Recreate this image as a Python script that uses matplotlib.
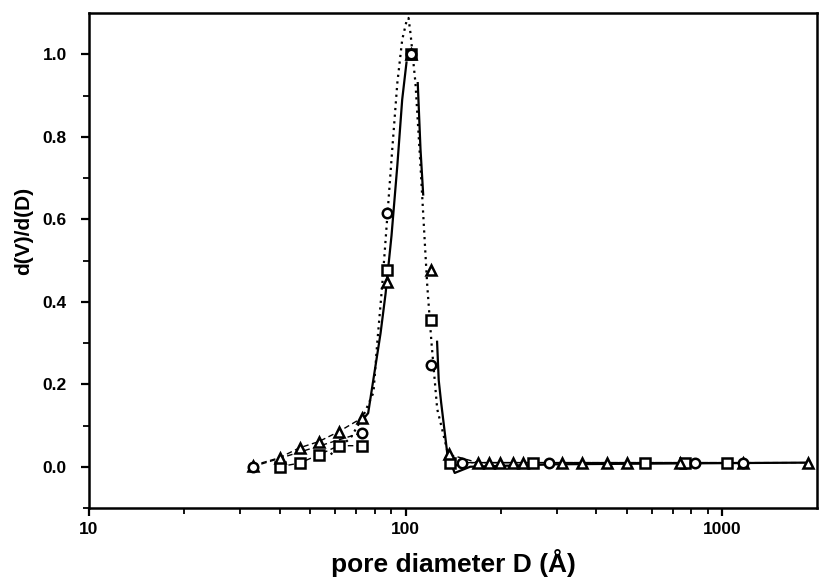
import numpy as np
import matplotlib
matplotlib.use("Agg")
import matplotlib.pyplot as plt
from matplotlib.ticker import FixedLocator, LogLocator, NullFormatter

plt.rcParams['font.family'] = ['Liberation Sans', 'DejaVu Sans']
plt.rcParams['font.weight'] = 'bold'

# Pore size distribution, normalised dV/dD for three samples
tri_D = [32.9, 40.0, 46.3, 53.2, 61.5, 73.1, 87.3, 103.7, 120.5, 137, 169, 183, 199, 218, 235,
         311, 362, 433, 500, 735, 1167, 1871]
tri_y = [0.003, 0.022, 0.046, 0.061, 0.085, 0.119, 0.448, 1.0, 0.478, 0.03, 0.01, 0.01, 0.01, 0.01,
         0.01, 0.01, 0.01, 0.01, 0.01, 0.01, 0.01, 0.01]

sq_D = [40.0, 46.3, 53.2, 61.5, 73.1, 87.3, 103.7, 120.5, 138, 253, 572, 761, 1040]
sq_y = [0.0, 0.009, 0.029, 0.051, 0.051, 0.477, 1.0, 0.356, 0.01, 0.01, 0.01, 0.01, 0.01]

circ_D = [32.9, 73.1, 87.1, 103.7, 120.5, 151, 283, 821, 1167]
circ_y = [0.0, 0.083, 0.615, 1.0, 0.247, 0.01, 0.01, 0.01, 0.01]

# Fitted distribution (dotted)
fit_D = [58.0, 67.1, 73.2, 79.2, 81.4, 84.4, 86.5, 90.8, 94.2, 97.6, 100.7, 102.2, 103.7, 107.5,
         111.5, 115.7, 117.1, 120.8, 125.9, 130.6, 135.4, 138.7, 149]
fit_y = [0.03, 0.07, 0.12, 0.18, 0.30, 0.44, 0.55, 0.77, 0.93, 1.035, 1.08, 1.088, 1.05, 0.93,
         0.73, 0.51, 0.44, 0.30, 0.14, 0.09, 0.04, 0.01, 0.0]

# Model curve (solid), broken where it passes behind the peak markers
model_D = [72.5, 76.2, 83.4, 86.5, 90.3, 94.2, 97.6, 100.7, np.nan,
           109.3, 111.5, 113.7, np.nan,
           125.8, 127.3, 129.6, 135.6, 143, 160, 300, 700, 1871]
model_y = [0.11, 0.13, 0.324, 0.42, 0.56, 0.73, 0.89, 0.98, np.nan,
           0.93, 0.77, 0.66, np.nan,
           0.303, 0.21, 0.155, 0.03, -0.015, 0.0, 0.006, 0.008, 0.01]

fig = plt.figure(figsize=(8.19, 5.81), dpi=100)
ax = fig.add_axes([89/819, 1-508/581, (817-89)/819, (508-13)/581])

ax.plot(fit_D, fit_y, color='black', linestyle=(0, (1, 2)), linewidth=1.6, zorder=2)
ax.plot(model_D, model_y, color='black', linestyle='-', linewidth=1.6, zorder=2)


def connect(D, y, lo=80, hi=130):
    """Dashed joins between markers, left out across the steep peak."""
    D = np.asarray(D, float)
    y = np.asarray(y, float).copy()
    y[(D > lo) & (D < hi)] = np.nan
    return D, y


line_kw = dict(color='black', linewidth=1.0, linestyle=(0, (4, 2.5)), zorder=2.5)
mk_kw = dict(linestyle='none', markerfacecolor='white', markeredgecolor='black',
             markeredgewidth=1.8, markersize=6.8, zorder=3)
for D, y, m in [(sq_D, sq_y, 's'), (tri_D, tri_y, '^'), (circ_D, circ_y, 'o')]:
    ax.plot(*connect(D, y), **line_kw)
    ax.plot(D, y, marker=m, **mk_kw)

ax.set_xscale('log')
ax.set_xlim(10, 1995)
ax.set_ylim(-0.1, 1.1)

ax.set_yticks([0.0, 0.2, 0.4, 0.6, 0.8, 1.0])
ax.set_yticklabels(['0.0', '0.2', '0.4', '0.6', '0.8', '1.0'])
ax.yaxis.set_minor_locator(FixedLocator([-0.1, 0.1, 0.3, 0.5, 0.7, 0.9]))
ax.set_xticks([10, 100, 1000])
ax.set_xticklabels(['10', '100', '1000'])
ax.xaxis.set_minor_locator(LogLocator(base=10, subs=np.arange(2, 10)))
ax.xaxis.set_minor_formatter(NullFormatter())

ax.tick_params(axis='both', which='major', direction='out', length=6, width=1.6,
               labelsize=12.5)
ax.tick_params(axis='y', which='major', pad=10)
ax.tick_params(axis='x', which='major', pad=4)
ax.tick_params(axis='both', which='minor', direction='out', length=4, width=1.3)
for s in ax.spines.values():
    s.set_linewidth(1.8)

ax.set_xlabel('pore diameter D (Å)', fontsize=19, fontweight='bold')
ax.xaxis.set_label_coords(0.5, -0.082)
ax.set_ylabel('d(V)/d(D)', fontsize=15, fontweight='bold')
ax.yaxis.set_label_coords(-0.077, 0.56)

fig.savefig('out.png', dpi=100)
